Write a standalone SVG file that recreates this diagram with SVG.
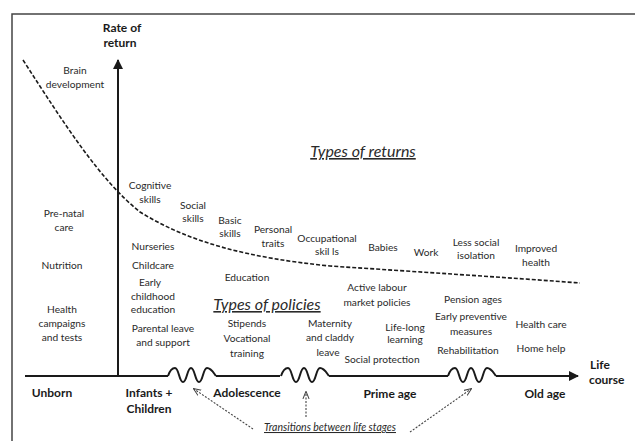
<svg xmlns="http://www.w3.org/2000/svg" width="635" height="441" viewBox="0 0 635 441">
<defs>
<style>
text{font-family:Lato,"Liberation Sans",sans-serif;fill:#2a2a2a;text-anchor:middle}
.t{font-size:10.2px}
.b{font-size:12px;font-weight:bold;fill:#1a1a1a}
.h{font-size:16px;font-style:italic;text-decoration:underline}
.s{font-size:10.5px;font-style:italic;text-decoration:underline}
.ax{stroke:#1a1a1a;stroke-width:2;fill:none}
.dot{stroke:#444;stroke-width:1.1;stroke-dasharray:2 1.5;fill:none}
</style>
<marker id="ah" viewBox="0 0 10 10" refX="9" refY="5" markerWidth="5" markerHeight="5" orient="auto" markerUnits="strokeWidth"><path d="M0,0 L10,5 L0,10 z" fill="#1a1a1a"/></marker>
<marker id="sa" viewBox="0 0 10 10" refX="9" refY="5" markerWidth="7" markerHeight="7" orient="auto" markerUnits="strokeWidth"><path d="M0,1 L10,5 L0,9" fill="none" stroke="#444" stroke-width="1.3"/></marker>
<path id="sq" d="M0,0 C2,-6 4,-8 7,-8 C11,-8 11,6 15,6 C19,6 19,-8 23,-8 C27,-8 27,6 31,6 C35,6 35,-8 39,-8 C43,-8 45,-4 48,0"/>
</defs>
<rect width="635" height="441" fill="#fff"/>
<path d="M12,441 L12,14 L635,14" stroke="#444" stroke-width="1.5" fill="none"/>

<g id="connectors">
<path class="ax" d="M118,376 L118,60" marker-end="url(#ah)"/>
<path class="ax" d="M25,376 L168,376 M216,376 L280,376 M329,376 L448,376"/>
<path class="ax" d="M496,376 L578,376" marker-end="url(#ah)"/>
<use href="#sq" class="ax" transform="translate(168,376)"/>
<use href="#sq" class="ax" transform="translate(281,376)"/>
<use href="#sq" class="ax" transform="translate(448,376)"/>
<path d="M23,60 C65,125 100,180 140,212 C190,243 250,258 330,266 C420,272 500,277 580,283" fill="none" stroke="#1a1a1a" stroke-width="1.6" stroke-dasharray="4 2"/>
<path class="dot" d="M253,429 L194,389" marker-end="url(#sa)"/>
<path class="dot" d="M306,417 L306,392" marker-end="url(#sa)"/>
<path class="dot" d="M410,432 L471,389" marker-end="url(#sa)"/>
</g>

<g id="axis-y-label"><text class="b" x="122" y="32">Rate of</text><text class="b" x="120" y="47">return</text></g>
<g id="axis-x-label"><text class="b" x="590" y="369" style="text-anchor:start">Life</text><text class="b" x="589" y="384" style="text-anchor:start">course</text></g>

<g id="stage-unborn"><text class="b" x="52" y="397">Unborn</text></g>
<g id="stage-infants"><text class="b" x="149" y="397">Infants +</text><text class="b" x="149" y="413">Children</text></g>
<g id="stage-adolescence"><text class="b" x="247" y="397">Adolescence</text></g>
<g id="stage-prime"><text class="b" x="390" y="398">Prime age</text></g>
<g id="stage-old"><text class="b" x="545" y="398">Old age</text></g>

<g id="heading-returns"><text class="h" x="363" y="157">Types of returns</text></g>
<g id="heading-policies"><text class="h" x="267" y="310">Types of policies</text></g>
<g id="transitions"><text class="s" x="330" y="431">Transitions between life stages</text></g>

<g id="ret-brain"><text class="t" x="75" y="74">Brain</text><text class="t" x="75" y="88">development</text></g>
<g id="ret-cognitive"><text class="t" x="150" y="189">Cognitive</text><text class="t" x="150" y="203">skills</text></g>
<g id="ret-social"><text class="t" x="193" y="209">Social</text><text class="t" x="193" y="222">skills</text></g>
<g id="ret-basic"><text class="t" x="230" y="224">Basic</text><text class="t" x="230" y="237">skills</text></g>
<g id="ret-personal"><text class="t" x="273" y="233">Personal</text><text class="t" x="273" y="247">traits</text></g>
<g id="ret-occupational"><text class="t" x="327" y="242">Occupational</text><text class="t" x="327" y="255">skil ls</text></g>
<g id="ret-babies"><text class="t" x="383" y="251">Babies</text></g>
<g id="ret-work"><text class="t" x="426" y="256">Work</text></g>
<g id="ret-isolation"><text class="t" x="476" y="246">Less social</text><text class="t" x="476" y="259">isolation</text></g>
<g id="ret-health"><text class="t" x="536" y="252">Improved</text><text class="t" x="536" y="266">health</text></g>

<g id="pol-prenatal"><text class="t" x="64" y="217">Pre-natal</text><text class="t" x="64" y="231">care</text></g>
<g id="pol-nutrition"><text class="t" x="62" y="269">Nutrition</text></g>
<g id="pol-campaigns"><text class="t" x="62" y="313">Health</text><text class="t" x="62" y="327">campaigns</text><text class="t" x="62" y="341">and tests</text></g>
<g id="pol-nurseries"><text class="t" x="153" y="250">Nurseries</text></g>
<g id="pol-childcare"><text class="t" x="153" y="269">Childcare</text></g>
<g id="pol-ece"><text class="t" x="150" y="286">Early</text><text class="t" x="153" y="300">childhood</text><text class="t" x="153" y="313">education</text></g>
<g id="pol-parental"><text class="t" x="163" y="332">Parental leave</text><text class="t" x="163" y="346">and support</text></g>
<g id="pol-education"><text class="t" x="247" y="281">Education</text></g>
<g id="pol-stipends"><text class="t" x="247" y="327">Stipends</text></g>
<g id="pol-vocational"><text class="t" x="247" y="342">Vocational</text><text class="t" x="247" y="357">training</text></g>
<g id="pol-maternity"><text class="t" x="330" y="327">Maternity</text><text class="t" x="330" y="341">and claddy</text><text class="t" x="328" y="356">leave</text></g>
<g id="pol-social"><text class="t" x="382" y="363">Social protection</text></g>
<g id="pol-active"><text class="t" x="377" y="291">Active labour</text><text class="t" x="377" y="306">market policies</text></g>
<g id="pol-lifelong"><text class="t" x="405" y="331">Life-long</text><text class="t" x="405" y="343">learning</text></g>
<g id="pol-pension"><text class="t" x="473" y="303">Pension ages</text></g>
<g id="pol-preventive"><text class="t" x="471" y="320">Early preventive</text><text class="t" x="471" y="335">measures</text></g>
<g id="pol-rehab"><text class="t" x="468" y="354">Rehabilitation</text></g>
<g id="pol-healthcare"><text class="t" x="541" y="328">Health care</text></g>
<g id="pol-homehelp"><text class="t" x="541" y="352">Home help</text></g>
</svg>
